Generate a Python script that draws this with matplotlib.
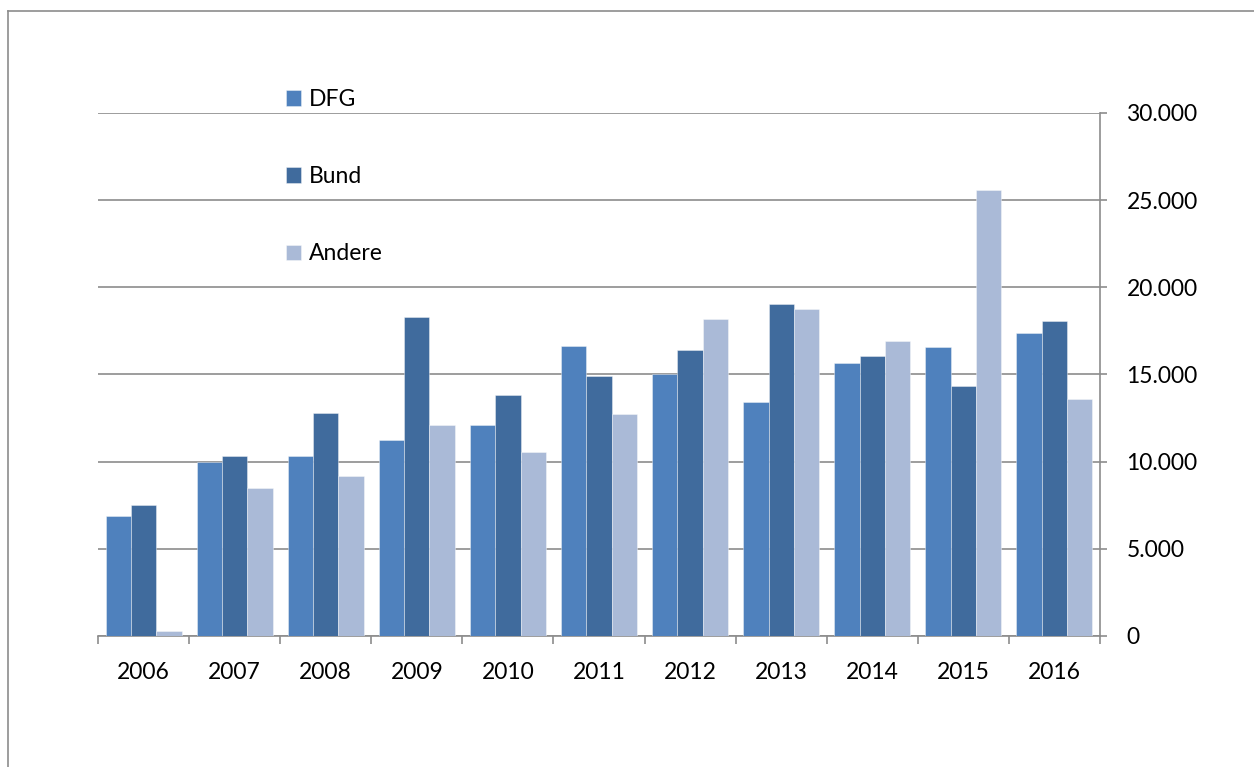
import matplotlib
matplotlib.use("Agg")
import matplotlib.pyplot as plt
from matplotlib.lines import Line2D
import numpy as np

years = ["2006", "2007", "2008", "2009", "2010", "2011", "2012", "2013", "2014", "2015", "2016"]
dfg = [6900, 10000, 10350, 11250, 12100, 16650, 15000, 13450, 15650, 16600, 17400]
bund = [7500, 10300, 12800, 18300, 13800, 14900, 16400, 19050, 16050, 14350, 18050]
andere = [300, 8500, 9200, 12100, 10550, 12750, 18200, 18750, 16950, 25600, 13600]
series_names = ["DFG", "Bund", "Andere"]
colors = ["#4F81BD", "#406B9D", "#AABAD7"]
yticks = [0, 5000, 10000, 15000, 20000, 25000, 30000]
ytick_labels = ["0", "5.000", "10.000", "15.000", "20.000", "25.000", "30.000"]

plt.rcParams['font.family'] = ['Lato', 'DejaVu Sans']
W, H = 1254, 767
FS = 16.5
fig = plt.figure(figsize=(W / 100, H / 100), dpi=100)
ax = fig.add_axes([98 / W, 1 - 636 / H, (1100 - 98) / W, (636 - 113) / H])

x = np.arange(len(years))
w = 0.278
handles = []
for k, (vals, name, c) in enumerate(zip([dfg, bund, andere], series_names, colors)):
    b = ax.bar(x + (k - 1) * w, vals, width=w, color=c, label=name,
               edgecolor=(1, 1, 1, 0.45), linewidth=0.6, zorder=3)
    handles.append(b)

ax.set_xlim(-0.5, len(years) - 0.5)
ax.set_ylim(0, 30000)
ax.yaxis.tick_right()
ax.set_yticks(yticks)
ax.set_yticklabels(ytick_labels)
ax.set_xticks(x)
ax.set_xticklabels(years)
ax.set_xticks(np.arange(-0.5, len(years)), minor=True)

grid_c = "#8C8C8C"
ax.grid(axis='y', color=grid_c, linewidth=1.2, zorder=0)
ax.set_axisbelow(True)
for s in ["left", "top"]:
    ax.spines[s].set_visible(False)
for s in ["right", "bottom"]:
    ax.spines[s].set_color(grid_c)
    ax.spines[s].set_linewidth(1.2)

ax.tick_params(axis='x', which='major', length=0, pad=19, labelsize=FS, labelcolor='black')
ax.tick_params(axis='x', which='minor', length=6, width=1.2, color=grid_c, direction='out')
ax.tick_params(axis='y', which='major', length=5, width=1.2, color=grid_c, direction='out',
               pad=14, labelsize=FS, labelcolor='black', right=True, left=False)

leg = fig.legend(handles=handles, labels=series_names, loc='upper left',
                 bbox_to_anchor=(286 / W, 1 - 89 / H), frameon=False, borderpad=0,
                 borderaxespad=0, handlelength=0.66, handleheight=0.66,
                 handletextpad=0.35, labelspacing=2.45, fontsize=FS)

# outer frame
fig.add_artist(Line2D([8 / W, 8 / W], [0, 1 - 11 / H], transform=fig.transFigure,
                      color="#8C8C8C", linewidth=1.2))
fig.add_artist(Line2D([8 / W, 1], [1 - 11 / H, 1 - 11 / H], transform=fig.transFigure,
                      color="#8C8C8C", linewidth=1.2))

fig.savefig("out.png", dpi=100)
